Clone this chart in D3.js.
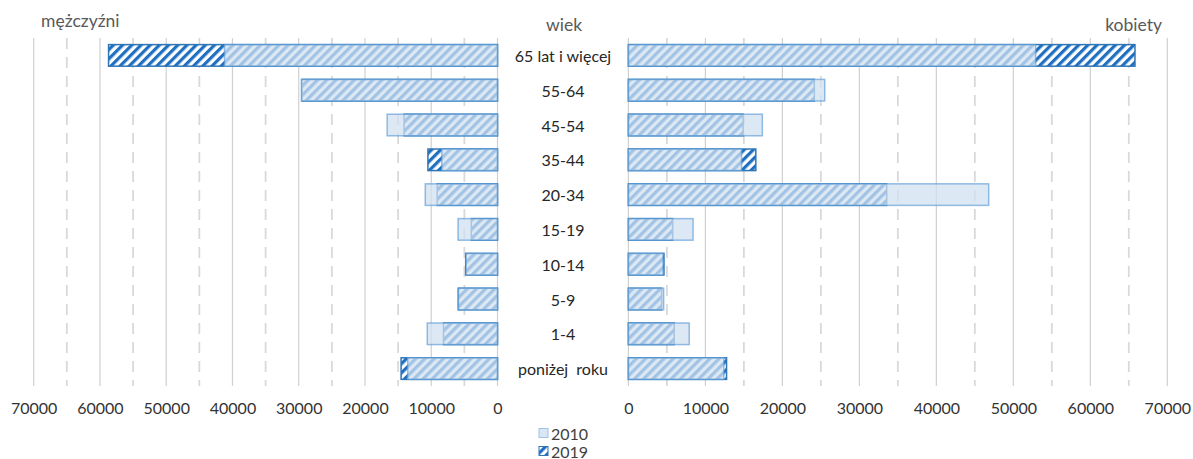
<!DOCTYPE html>
<html>
<head>
<meta charset="utf-8">
<script src="https://cdn.jsdelivr.net/npm/d3@7"></script>
<style>
  body { margin: 0; background: #fff; }
  text { font-family: Lato, "Open Sans", sans-serif; }
</style>
</head>
<body>
<div id="chart"></div>
<script>
// age groups, top to bottom
var categories = ["65 lat i więcej", "55-64", "45-54", "35-44", "20-34", "15-19", "10-14", "5-9", "1-4", "poniżej  roku"];
// men (left side)
var men2010 = [41200, 29600, 16650, 8400, 10900, 5950, 4750, 5900, 10600, 13550];
var men2019 = [58700, 29500, 14100, 10500, 9100, 3950, 4800, 5920, 8150, 14550];
// women (right side)
var women2010 = [52900, 25500, 17400, 14700, 46800, 8400, 4500, 4580, 7900, 12400];
var women2019 = [65800, 24150, 14900, 16550, 33550, 5750, 4620, 4320, 5950, 12750];
var tickValues = [0, 10000, 20000, 30000, 40000, 50000, 60000, 70000];
var gridValues = d3.range(0, 70001, 5000);
var years = ["2010", "2019"];

var width = 1193, height = 459;

var svg = d3.select("#chart")
  .append("svg")
    .attr("width", width)
    .attr("height", height);

// hatch pattern for 2019
var defs = svg.append("defs");
var pat = defs.append("pattern")
    .attr("id", "hatch")
    .attr("patternUnits", "userSpaceOnUse")
    .attr("width", 6.5)
    .attr("height", 6.5)
    .attr("patternTransform", "rotate(45)");
pat.append("rect").attr("width", 6.5).attr("height", 6.5).attr("fill", "#fff");
pat.append("rect").attr("width", 3.2).attr("height", 6.5).attr("fill", "#1f6fc0");

// scales
var xL = d3.scaleLinear().domain([0, 70000]).range([497.5, 33.7]);
var xR = d3.scaleLinear().domain([0, 70000]).range([628.4, 1167.3]);
var y = d3.scaleBand()
  .domain(categories)
  .range([38, 386])
  .paddingInner(0.38)
  .paddingOuter(0.19);

// gridlines
[xL, xR].forEach(function(x) {
  svg.append("g")
    .selectAll("line")
    .data(gridValues)
    .enter()
    .append("line")
      .attr("x1", function(d) { return x(d); })
      .attr("x2", function(d) { return x(d); })
      .attr("y1", 38)
      .attr("y2", 386)
      .attr("stroke", function(d) { return d % 10000 == 0 ? "#d0d0d0" : "#d9d9d9"; })
      .attr("stroke-width", function(d) { return d % 10000 == 0 ? 1.2 : 1.8; })
      .attr("stroke-dasharray", function(d) { return d % 10000 == 0 ? null : "11,8"; });
});

// x axes (labels only)
function drawAxis(x) {
  var g = svg.append("g")
    .attr("transform", "translate(0,386)")
    .call(d3.axisBottom(x).tickValues(tickValues).tickSize(0).tickPadding(17).tickFormat(d3.format("d")));
  g.select(".domain").remove();
  g.selectAll("text")
    .style("font-family", "Lato, sans-serif")
    .style("font-size", "16px")
    .attr("fill", "#333");
}
drawAxis(xL);
drawAxis(xR);

// bars: 2019 hatched below, 2010 translucent on top
function drawBars(values, x, left, isNew) {
  svg.append("g")
    .selectAll("rect")
    .data(values)
    .enter()
    .append("rect")
      .attr("x", function(d) { return left ? x(d) : x(0); })
      .attr("y", function(d, i) { return y(categories[i]); })
      .attr("width", function(d) { return Math.abs(x(d) - x(0)); })
      .attr("height", y.bandwidth())
      .attr("fill", isNew ? "url(#hatch)" : "rgba(208,224,240,0.74)")
      .attr("stroke", isNew ? "#2e75b6" : "rgba(91,155,213,0.65)")
      .attr("stroke-width", 1.5);
}
drawBars(men2019, xL, true, true);
drawBars(women2019, xR, false, true);
drawBars(men2010, xL, true, false);
drawBars(women2010, xR, false, false);

// category labels in the middle
svg.append("g")
  .selectAll("text")
  .data(categories)
  .enter()
  .append("text")
    .attr("x", 563)
    .attr("y", function(d) { return y(d) + y.bandwidth() / 2; })
    .attr("text-anchor", "middle")
    .attr("dominant-baseline", "central")
    .style("white-space", "pre")
    .style("font-size", "16px")
    .attr("fill", "#262626")
    .text(function(d) { return d; });

// headers
svg.append("text").attr("x", 41).attr("y", 27).style("font-size", "17.5px").attr("fill", "#595959").text("mężczyźni");
svg.append("text").attr("x", 564).attr("y", 31).attr("text-anchor", "middle").style("font-size", "17.5px").attr("fill", "#595959").text("wiek");
svg.append("text").attr("x", 1162).attr("y", 31).attr("text-anchor", "end").style("font-size", "17.5px").attr("fill", "#595959").text("kobiety");

// legend
var leg = svg.append("g")
  .selectAll("g")
  .data(years)
  .enter()
  .append("g")
    .attr("transform", function(d, i) { return "translate(539," + (433 + i * 18) + ")"; });
leg.append("rect")
    .attr("x", 0)
    .attr("y", -4.5)
    .attr("width", 9)
    .attr("height", 9)
    .attr("fill", function(d) { return d == "2010" ? "#dae6f3" : "url(#hatch)"; })
    .attr("stroke", function(d) { return d == "2010" ? "#9dc3e6" : "#2e75b6"; })
    .attr("stroke-width", 1);
leg.append("text")
    .attr("x", 12)
    .attr("y", 0)
    .attr("dominant-baseline", "central")
    .style("font-size", "16px")
    .attr("fill", "#404040")
    .text(function(d) { return d; });
</script>
</body>
</html>
